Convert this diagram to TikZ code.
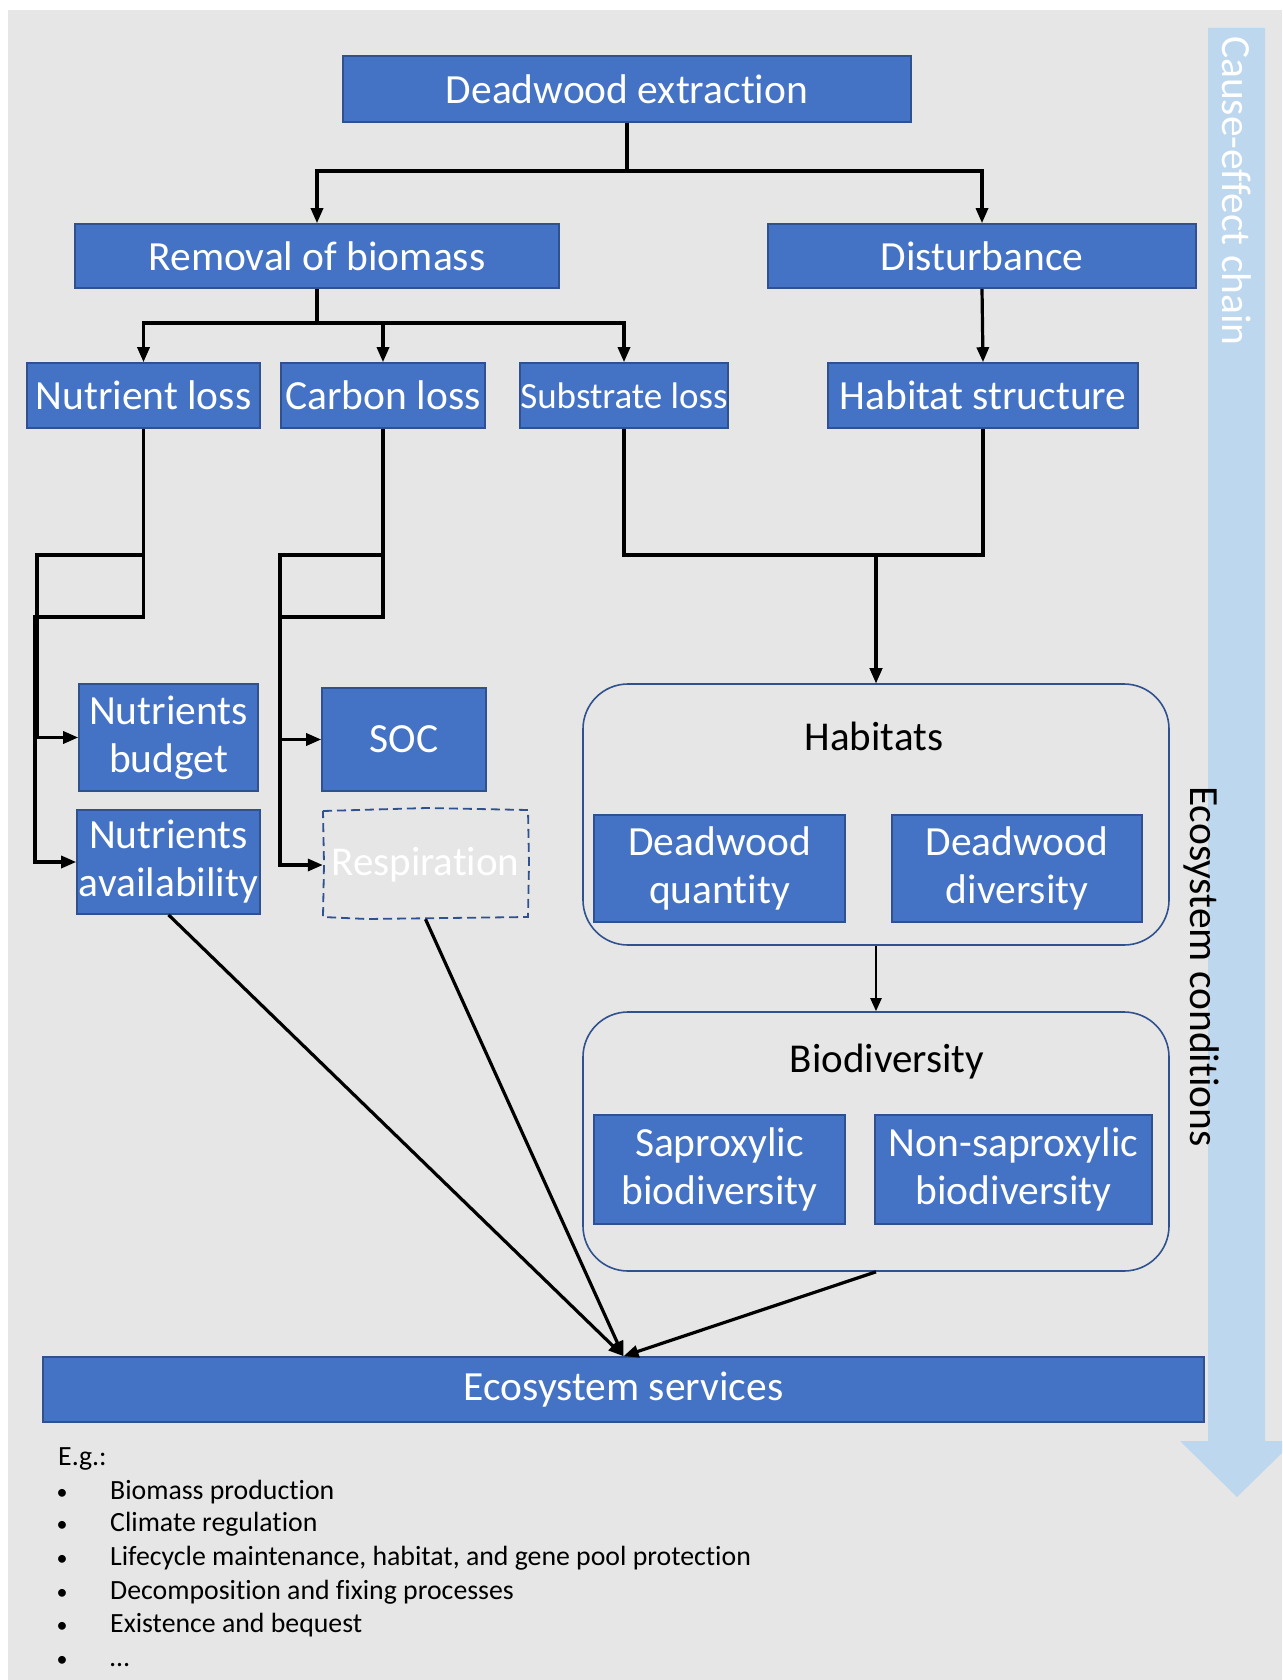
\documentclass[tikz,border=0pt]{standalone}
\usepackage{fontspec}
\setmainfont{Carlito}[Ligatures=NoCommon]
\usetikzlibrary{arrows.meta}
\definecolor{paper}{HTML}{E7E6E6}
\definecolor{boxblue}{HTML}{4472C4}
\definecolor{boxedge}{HTML}{2F528F}
\definecolor{chainblue}{HTML}{BDD7EE}

\begin{document}
\begin{tikzpicture}[x=1pt,y=-1pt,
  bluebox/.style={draw=boxedge, fill=boxblue, line width=1.6pt, text=white,
    inner sep=0pt, align=center, font=\fontsize{41.5}{48}\selectfont},
  groupbox/.style={draw=boxedge, line width=1.6pt, rounded corners=45pt, inner sep=0pt},
  grouptitle/.style={text=black, inner sep=0pt, font=\fontsize{41}{48}\selectfont},
  link/.style={line width=3.2pt, -{Triangle[length=15pt,width=12pt]}},
  thinlink/.style={line width=2.2pt, -{Triangle[length=13pt,width=11pt]}},
  sidetext/.style={rotate=-90, anchor=base west, inner sep=0pt, font=\fontsize{41.5}{49}\selectfont},
  listtext/.style={anchor=base west, inner sep=0pt, font=\fontsize{27.8}{33}\selectfont},
  bulletmark/.style={anchor=base, inner sep=0pt, font=\fontsize{22}{33}\selectfont}
]
% page and background panel
\useasboundingbox (0,0) rectangle (1282,1680);
\fill[white] (0,0) rectangle (1282,1680);
\fill[paper] (8,10) rectangle (1282,1680);

% cause-effect arrow along the right edge
\fill[chainblue] (1208,28) -- (1265,28) -- (1265,1441) -- (1282,1441) -- (1282,1453)
  -- (1237,1497) -- (1180,1441) -- (1208,1441) -- cycle;
\node[sidetext, text=white] (chain) at (1222,36) {Cause-effect chain};
\node[sidetext, text=black] (cond) at (1190,786) {Ecosystem conditions};

% first levels
\node[bluebox, minimum width=568pt, minimum height=66pt] (ext) at (627,89) {Deadwood extraction};
\node[bluebox, minimum width=484pt, minimum height=64pt] (rem) at (317,256) {Removal of biomass};
\node[bluebox, minimum width=428pt, minimum height=64pt] (dist) at (982,256) {Disturbance};

\node[bluebox, minimum width=233pt, minimum height=65pt] (nl) at (143.5,395.5) {Nutrient loss};
\node[bluebox, minimum width=204pt, minimum height=65pt] (cl) at (383,395.5) {Carbon loss};
\node[bluebox, minimum width=208pt, minimum height=65pt, font=\fontsize{37}{44}\selectfont] (sl) at (624,395.5) {Substrate loss};
\node[bluebox, minimum width=310pt, minimum height=65pt] (hs) at (983,395.5) {Habitat structure};

% nutrient and carbon effects
\node[bluebox, minimum width=179pt, minimum height=107pt] (nb) at (168.5,737.5) {Nutrients\\budget};
\node[bluebox, minimum width=183pt, minimum height=104pt] (na) at (168.5,862) {Nutrients\\availability};
\node[bluebox, minimum width=164pt, minimum height=103pt] (soc) at (404,739.5) {SOC};
\node[inner sep=0pt, minimum width=205pt, minimum height=108pt, text=white,
  font=\fontsize{41}{48}\selectfont] (resp) at (425.5,865) {Respiration};
\draw[boxedge, line width=1.8pt, dash pattern=on 9pt off 5pt]
  (323,811) -- (427,808) -- (528,810) -- (529,864) -- (528,917) -- (367,919) -- (323,917) -- (324,864) -- cycle;

% habitats group
\node[groupbox, minimum width=586pt, minimum height=261pt] (hab) at (876,814.5) {};
\node[grouptitle] (habt) at (874,736) {Habitats};
\node[bluebox, minimum width=251pt, minimum height=107pt] (dq) at (719.5,868.5) {Deadwood\\quantity};
\node[bluebox, minimum width=250pt, minimum height=107pt] (dd) at (1017,868.5) {Deadwood\\diversity};

% biodiversity group
\node[groupbox, minimum width=586pt, minimum height=259pt] (bio) at (876,1141.5) {};
\node[grouptitle] (biot) at (887,1062) {Biodiversity};
\node[bluebox, minimum width=251pt, minimum height=109pt] (sap) at (719.5,1169.5) {Saproxylic\\biodiversity};
\node[bluebox, minimum width=277pt, minimum height=109pt] (nsap) at (1013.5,1169.5) {Non-saproxylic\\biodiversity};

% ecosystem services
\node[bluebox, minimum width=1161pt, minimum height=65pt] (es) at (623.5,1389.5) {Ecosystem services};

% connectors
\draw[link] (ext.south) -- (627,171) -| (rem.north);
\draw[link] (ext.south) -- (627,171) -| (dist.north);
\draw[link] (rem.south) -- (317,323) -| (nl.north);
\draw[link] (rem.south) -- (317,323) -| (cl.north);
\draw[link] (rem.south) -- (317,323) -| (sl.north);
\draw[link] (dist.south) -- (hs.north);

\draw[link] (nl.south) -- (143.5,555) -- (37,555) |- (nb.west);
\draw[link] (nl.south) -- (143.5,617) -- (35,617) |- (na.west);
\draw[link] (cl.south) -- (383,555) -- (280,555) |- (soc.west);
\draw[link] (cl.south) -- (383,617) -- (280,617) |- (resp.west);

\draw[link] (sl.south) -- (624,555) -| (hab.north);
\draw[link] (hs.south) -- (983,555) -| (hab.north);
\draw[thinlink] (hab.south) -- (bio.north);

\draw[link] (na.south) -- (es.north);
\draw[link] (resp.south) -- (es.north);
\draw[link] (bio.south) -- (es.north);

% examples list
\node[listtext] (eg) at (58,1465) {E.g.:};
\foreach \y/\t [count=\i] in {1499/Biomass production, 1531/Climate regulation,
  1565/{Lifecycle maintenance, habitat, and gene pool protection},
  1599/Decomposition and fixing processes, 1632/Existence and bequest, 1666/…}{
  \node[bulletmark] (b\i) at (62,\y) {•};
  \node[listtext] (item\i) at (110,\y) {\t};
}
\end{tikzpicture}
\end{document}
